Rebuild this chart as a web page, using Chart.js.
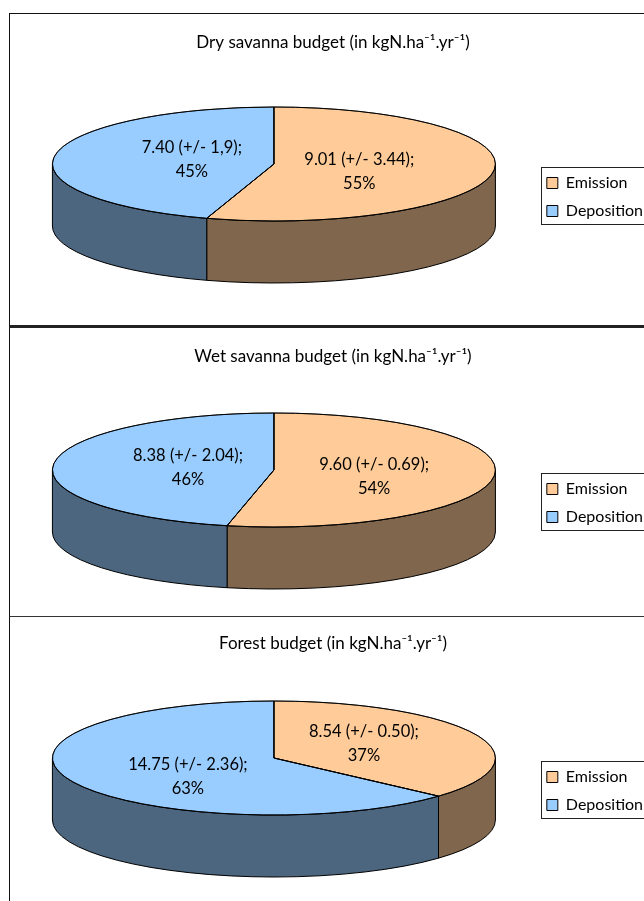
<!DOCTYPE html>
<html>
<head>
<meta charset="utf-8">
<script src="https://cdn.jsdelivr.net/npm/chart.js@4"></script>
<style>
  html, body { margin: 0; padding: 0; background: #fff; }
  body { position: relative; width: 644px; height: 901px; overflow: hidden; }
  .frame { position: absolute; left: 9px; width: 700px; box-sizing: border-box; border-left: 1px solid #111; }
  canvas { position: absolute; left: 0; }
</style>
</head>
<body>
<div class="frame" style="top:13px;height:315px;border-top:1px solid #111;border-bottom:3px solid #222"></div>
<div class="frame" style="top:328px;height:289px;border-bottom:1px solid #333"></div>
<div class="frame" style="top:617px;height:300px"></div>
<canvas id="dry" style="top:13px"></canvas>
<canvas id="wet" style="top:327px"></canvas>
<canvas id="forest" style="top:614px"></canvas>
<script>
// legend entries
const categories = ['Emission', 'Deposition'];

// budget values in kgN/ha/yr
const dryValues = [9.01, 7.40];
const wetValues = [9.60, 8.38];
const forestValues = [8.54, 14.75];

// uncertainty and percent text as printed on the chart
const dryErrors = ['3.44', '1,9'];
const wetErrors = ['0.69', '2.04'];
const forestErrors = ['0.50', '2.36'];
const dryPercents = ['55%', '45%'];
const wetPercents = ['54%', '46%'];
const forestPercents = ['37%', '63%'];

const topColors = ['#FFCC99', '#99CCFF'];
const sideColors = ['#80664D', '#4D6680'];

const fontName = 'Lato';
const titleSize = 17;
const labelSize = 16.5;
const legendSize = 16;
const unit = ' budget (in kgN.ha\u207B\u00B9.yr\u207B\u00B9)';

// height of the flattened pie and its wall, in px
const flatRadius = 57;
const wallHeight = 62;

// flattens the pie the library draws and adds the wall and labels around it
const pie3d = {
  id: 'pie3d',
  afterUpdate(chart) {
    // legend sits a little below the middle of the pie
    chart.legend.top += 2;
    chart.legend.bottom += 2;
    chart.legend.legendHitBoxes.forEach(hit => { hit.top += 2; });
  },
  beforeDatasetsDraw(chart) {
    const ctx = chart.ctx;
    const arcs = chart.getDatasetMeta(0).data;
    const cx = arcs[0].x;
    const cy = arcs[0].y;
    const rx = arcs[0].outerRadius;
    const topY = cy - wallHeight / 2;

    // wall first, only the front half shows
    arcs.forEach((arc, i) => {
      const a = Math.max(arc.startAngle, 0);
      const b = Math.min(arc.endAngle, Math.PI);
      if (a >= b) return;
      ctx.beginPath();
      ctx.ellipse(cx, topY, rx, flatRadius, 0, a, b);
      ctx.ellipse(cx, topY + wallHeight, rx, flatRadius, 0, b, a, true);
      ctx.closePath();
      ctx.fillStyle = sideColors[i];
      ctx.fill();
      ctx.strokeStyle = '#000';
      ctx.lineWidth = 1;
      ctx.stroke();
    });

    ctx.save();
    ctx.translate(cx, topY);
    ctx.scale(1, flatRadius / rx);
    ctx.translate(-cx, -cy);
  },
  afterDatasetsDraw(chart, args, opts) {
    const ctx = chart.ctx;
    ctx.restore();

    const arcs = chart.getDatasetMeta(0).data;
    const cx = arcs[0].x;
    const rx = arcs[0].outerRadius;
    const topY = arcs[0].y - wallHeight / 2;

    // scaling thins the border of the slices so stroke them again
    arcs.forEach(arc => {
      ctx.beginPath();
      ctx.moveTo(cx, topY);
      ctx.ellipse(cx, topY, rx, flatRadius, 0, arc.startAngle, arc.endAngle);
      ctx.closePath();
      ctx.strokeStyle = '#000';
      ctx.lineWidth = 1;
      ctx.stroke();
    });

    // slice labels
    ctx.fillStyle = '#000';
    ctx.font = labelSize + 'px ' + fontName;
    ctx.textAlign = 'center';
    ctx.textBaseline = 'middle';
    arcs.forEach((arc, i) => {
      const mid = (arc.startAngle + arc.endAngle) / 2;
      const x = cx + Math.cos(mid) * rx * opts.labelRadius[i];
      const y = topY + Math.sin(mid) * flatRadius * 0.7;
      const value = chart.data.datasets[0].data[i].toFixed(2);
      ctx.fillText(value + ' (+/- ' + opts.errors[i] + ');', x, y - 10);
      ctx.fillText(opts.percents[i], x, y + 14);
    });
  },
  afterDraw(chart) {
    // box around the legend
    const ctx = chart.ctx;
    const hits = chart.legend.legendHitBoxes;
    const top = hits[0].top - 8;
    const bottom = hits[hits.length - 1].top + hits[hits.length - 1].height + 5;
    ctx.strokeStyle = '#222';
    ctx.lineWidth = 1;
    ctx.strokeRect(Math.round(hits[0].left - 6) + 0.5, Math.round(top) + 0.5, 200, Math.round(bottom - top));
  }
};

const drawBudget = function drawBudgetPie(id, height, name, values, errors, percents, labelRadius) {
  const canvas = document.getElementById(id);
  canvas.width = 659;
  canvas.height = height;

  new Chart(canvas, {
    type: 'pie',
    data: {
      labels: categories,
      datasets: [
        {
          data: values,
          backgroundColor: topColors,
          borderColor: '#000',
          borderWidth: 1,
          clip: false,
        },
      ],
    },
    options: {
      responsive: false,
      animation: false,
      radius: 221.5,
      layout: { padding: { left: 13, right: 6 } },
      plugins: {
        title: {
          display: true,
          text: name + unit,
          color: '#000',
          font: { family: fontName, size: titleSize, weight: 'normal' },
          padding: { top: 19, bottom: 11.6 },
        },
        legend: {
          position: 'right',
          fullSize: false,
          labels: {
            boxWidth: 11,
            boxHeight: 11,
            padding: 12,
            color: '#000',
            font: { family: fontName, size: legendSize },
          },
        },
        tooltip: { enabled: false },
        pie3d: { errors: errors, percents: percents, labelRadius: labelRadius },
      },
    },
    plugins: [pie3d],
  });
};

drawBudget('dry', 313, 'Dry savanna', dryValues, dryErrors, dryPercents, [0.39, 0.375]);
drawBudget('wet', 297, 'Wet savanna', wetValues, wetErrors, wetPercents, [0.455, 0.39]);
drawBudget('forest', 299, 'Forest', forestValues, forestErrors, forestPercents, [0.445, 0.425]);
</script>
</body>
</html>
